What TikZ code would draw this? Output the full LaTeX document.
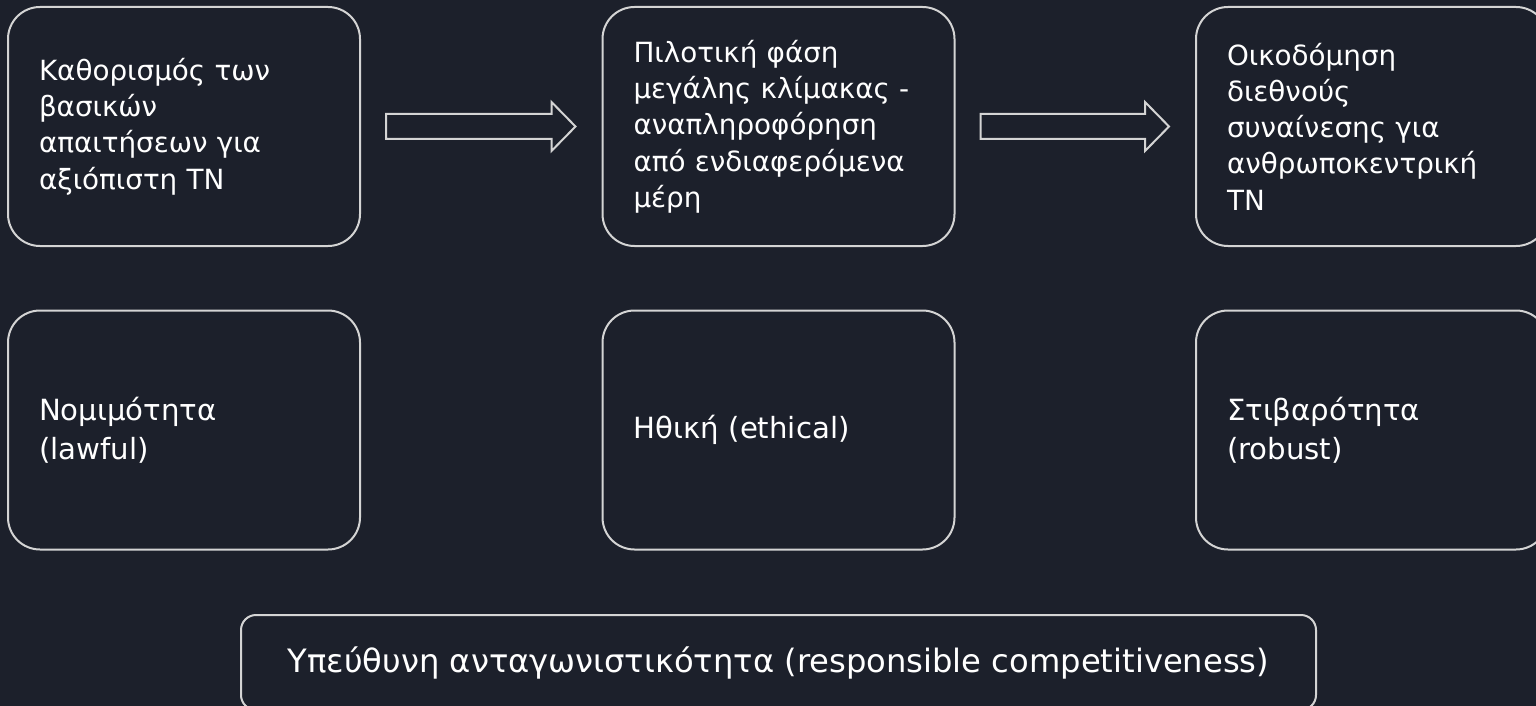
\documentclass[tikz,border=0pt]{standalone}
\usepackage{fontspec}
\setmainfont{DejaVu Sans}
\usetikzlibrary{calc}
\definecolor{bgdark}{HTML}{1C202B}
\definecolor{edgegray}{HTML}{D4D4D4}
\tikzset{
  card/.style={draw=edgegray, line width=2pt, rounded corners=32pt,
    minimum width=352pt, minimum height=239pt, inner sep=0pt,
    text width=290pt, align=left, text=white},
  toptext/.style={font=\fontsize{27.8}{36.3}\selectfont},
  lowtext/.style={font=\fontsize{29.2}{39}\selectfont},
  banner/.style={draw=edgegray, line width=2pt, rounded corners=15pt,
    minimum width=1075pt, minimum height=95pt, inner sep=0pt,
    align=center, text=white, font=\fontsize{32.2}{39}\selectfont},
  flowarrow/.style={draw=edgegray, line width=2pt, line join=miter}
}
\newcommand\blockarrow[2]{%
  \draw[flowarrow]
    ($(#1.east)+(25,-12.5)$) -- ($(#2.west)+(-50,-12.5)$)
    -- ($(#2.west)+(-50,-24.5)$) -- ($(#2.west)+(-26,0)$)
    -- ($(#2.west)+(-50,24.5)$) -- ($(#2.west)+(-50,12.5)$)
    -- ($(#1.east)+(25,12.5)$) -- cycle;}
\begin{document}
\begin{tikzpicture}[x=1pt,y=-1pt]
  \useasboundingbox (0,0) rectangle (1536,706);
  \fill[bgdark] (0,0) rectangle (1536,706);
  \clip (0,0) rectangle (1536,706);

  % top row: the three steps
  \node[card, toptext] (b1) at (184,126.5)
    {Καθορισμός των\\βασικών\\απαιτήσεων για\\αξιόπιστη ΤΝ};
  \node[card, toptext] (b2) at (778.5,126.5)
    {Πιλοτική φάση\\μεγάλης κλίμακας -\\αναπληροφόρηση\\από ενδιαφερόμενα\\μέρη};
  \node[card, toptext] (b3) at (1372,126.5)
    {Οικοδόμηση\\διεθνούς\\συναίνεσης για\\ανθρωποκεντρική\\ΤΝ};

  % second row: the three components
  \node[card, lowtext] (c1) at (184,430) {Νομιμότητα\\(lawful)};
  \node[card, lowtext] (c2) at (778.5,430) {Ηθική (ethical)};
  \node[card, lowtext] (c3) at (1372,430) {Στιβαρότητα\\(robust)};

  % bottom banner
  \node[banner] (d1) at (778.5,662.5)
    {Υπεύθυνη ανταγωνιστικότητα (responsible competitiveness)};

  % hollow arrows between the steps
  \blockarrow{b1}{b2}
  \blockarrow{b2}{b3}
\end{tikzpicture}
\end{document}
